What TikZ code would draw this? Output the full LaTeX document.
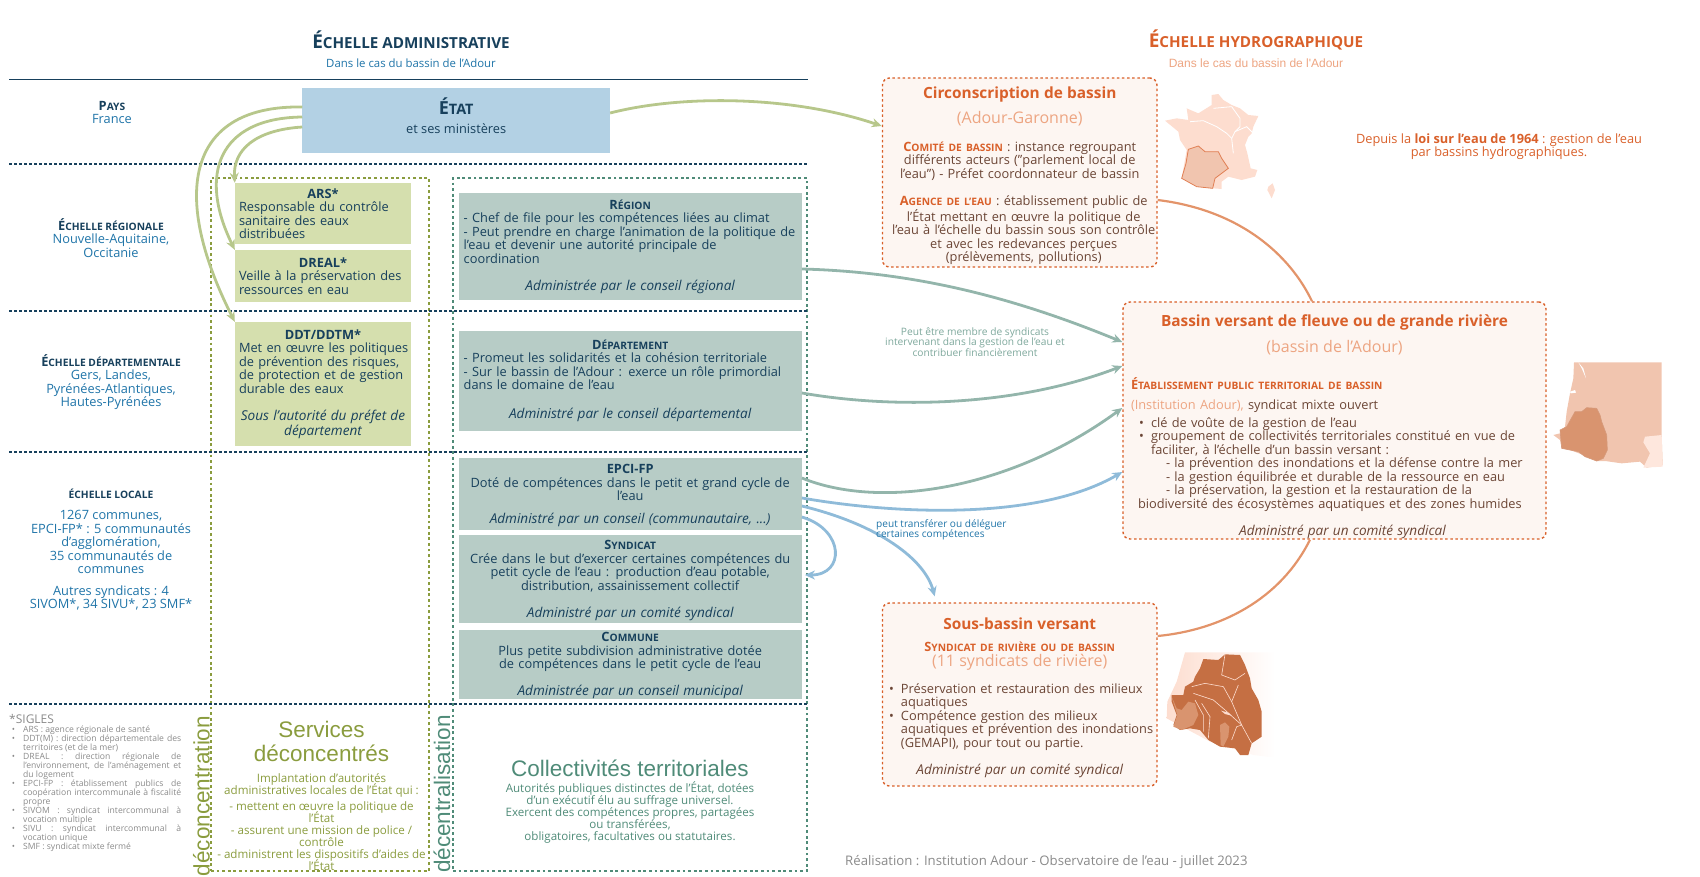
\documentclass[tikz,border=0pt]{standalone}
\usepackage{fontspec}
\setmainfont{Open Sans}
\newfontfamily\arialfont{Liberation Sans}
\usetikzlibrary{arrows.meta}
\definecolor{navy}{HTML}{17405C}
\definecolor{bleu}{HTML}{1F74A8}
\definecolor{etatfill}{HTML}{B3D1E4}
\definecolor{olive}{HTML}{8A9C3E}
\definecolor{olivefill}{HTML}{D5DFAE}
\definecolor{oliveline}{HTML}{B7C78B}
\definecolor{teal2}{HTML}{4F8B78}
\definecolor{tealfill}{HTML}{B7CCC6}
\definecolor{tealline}{HTML}{93B5AB}
\definecolor{bleuline}{HTML}{8FBBD9}
\definecolor{orange2}{HTML}{D9602A}
\definecolor{orangelight}{HTML}{EDA582}
\definecolor{orangeline}{HTML}{E3946A}
\definecolor{brun}{HTML}{6B4535}
\definecolor{rosefill}{HTML}{FDF6F2}
\definecolor{gris}{HTML}{8A8A8A}
\definecolor{mapa}{HTML}{FDDDCF}
\definecolor{mapb}{HTML}{F1C5AF}
\definecolor{mapc}{HTML}{D9946F}
\definecolor{mapd}{HTML}{C56F43}
\lineskiplimit=-30pt
\makeatletter
\newcommand{\sct}[1]{{\fontsize{\strip@pt\dimexpr0.8\dimexpr\f@size pt\relax\relax}{\f@baselineskip}\selectfont #1}}
\newcommand{\ita}[1]{{\fontsize{\strip@pt\dimexpr1.06\dimexpr\f@size pt\relax\relax}{\f@baselineskip}\selectfont\itshape #1}}
\makeatother
\newcommand{\ctr}[1]{\makebox[\linewidth][c]{#1}}
\newcommand{\ctrd}[1]{\ctr{\hspace*{8pt}#1}}
\newcommand{\jline}[1]{\makebox[158pt][s]{#1}}
\newcommand{\sgl}{\leavevmode\llap{\textbullet\hspace{8pt}}}
\newcommand{\bul}{\leavevmode\llap{\textbullet\hspace{7pt}}}
\newcommand{\titre}{\fontsize{15.4}{18}\selectfont\color{orange2}}
\newcommand{\txtsize}{\fontsize{12.8}{13.5}\selectfont}
\tikzset{
  txt/.style={font=\txtsize},
  echelle/.style={txt,align=center,text=bleu,inner sep=0pt},
  etatbox/.style={fill=etatfill,inner sep=0pt,text=navy,align=center},
  servbox/.style={txt,fill=olivefill,inner sep=0pt,text=navy,align=left,minimum width=176pt,text width=168pt},
  collbox/.style={txt,fill=tealfill,inner sep=0pt,text=navy,minimum width=343pt,text width=333pt},
  bvbox/.style={txt,fill=rosefill,draw=orange2,line width=1.4pt,dash pattern=on 2.5pt off 2.6pt,rounded corners=7pt,inner sep=0pt,text=brun},
  plain/.style={txt,inner sep=0pt,align=center},
  grand/.style={font=\arialfont\fontsize{22.5}{24}\selectfont,inner sep=0pt,align=center},
  limite/.style={navy,line width=1.6pt,dash pattern=on 2.5pt off 2.5pt},
  cadre/.style={line width=1.2pt,dash pattern=on 2.8pt off 2.8pt,inner sep=0pt},
  fleche/.style={line width=2.8pt,-{Stealth[length=10pt,width=9pt]}},
}
\begin{document}
\begin{tikzpicture}[x=1pt,y=-1pt]
\useasboundingbox (0,0) rectangle (1700,876);
% en-tetes
\node[inner sep=0pt,text=navy,font=\fontsize{19}{20}\selectfont\bfseries] (admin) at (411,40) {É\sct{CHELLE ADMINISTRATIVE}};
\node[inner sep=0pt,text=bleu,font=\fontsize{11.4}{13}\selectfont] (adminsub) at (411,63) {Dans le cas du bassin de l'Adour};
\node[inner sep=0pt,text=orange2,font=\fontsize{19}{20}\selectfont\bfseries] (hydro) at (1256,40) {É\sct{CHELLE HYDROGRAPHIQUE}};
\node[inner sep=0pt,text=orangelight,font=\arialfont\fontsize{12}{13}\selectfont] (hydrosub) at (1256,63.5) {Dans le cas du bassin de l'Adour};
\draw[navy,line width=0.8pt] (9,79.5) -- (808,79.5);
% cadres
\node[cadre,draw=olive,minimum width=218pt,minimum height=693pt] (cadreserv) at (320,524.5) {};
\node[cadre,draw=teal2,minimum width=354pt,minimum height=693pt] (cadrecoll) at (630,524.5) {};
\foreach \y in {164,311,452,704} \draw[limite] (9,\y) -- (808,\y);
% echelles
\node[echelle] (pays) at (112,112.5) {\textcolor{navy}{\textbf{P\sct{AYS}}}\\France};
\node[echelle] (region) at (111,238) {\textcolor{navy}{\textbf{É\sct{CHELLE RÉGIONALE}}}\\Nouvelle-Aquitaine,\\Occitanie};
\node[echelle] (dept) at (111,382) {\textcolor{navy}{\textbf{É\sct{CHELLE DÉPARTEMENTALE}}}\\Gers, Landes,\\Pyrénées-Atlantiques,\\Hautes-Pyrénées};
\node[echelle] (local) at (111,549.5) {\textcolor{navy}{\textbf{\sct{ÉCHELLE LOCALE}}}\\[8pt]1267 communes,\\EPCI-FP* : 5 communautés\\d'agglomération,\\35 communautés de\\communes\\[8pt]Autres syndicats : 4\\SIVOM*, 34 SIVU*, 23 SMF*};
% etat
\node[etatbox,minimum width=307.5pt,minimum height=65pt] (etat) at (456.2,120.5) {{\fontsize{18}{20}\selectfont\bfseries É\sct{TAT}}\\[7pt]{\txtsize et ses ministères\rule[-9pt]{0pt}{9pt}}};
% services
\node[servbox,minimum height=61pt] (ars) at (323,213.5) {\ctr{\textbf{ARS*}}\\Responsable du contrôle\\sanitaire des eaux\\distribuées};
\node[servbox,minimum height=52pt] (dreal) at (323,276) {\ctr{\textbf{DREAL*}}\\Veille à la préservation des\\ressources en eau};
\node[servbox,minimum height=124pt] (ddt) at (323,384) {\ctr{\textbf{DDT/DDTM*}}\\\mbox{Met en œuvre les politiques}\\de prévention des risques,\\de protection et de gestion\\durable des eaux\\[13.5pt]\ctr{\ita{Sous l'autorité du préfet de}}\\\ctr{\ita{département}}};
% collectivites
\node[collbox,align=left,minimum height=107pt] (reg) at (630.2,246.5) {\ctr{\textbf{R\sct{ÉGION}}}\\- Chef de file pour les compétences liées au climat\\- Peut prendre en charge l'animation de la politique de\\l'eau et devenir une autorité principale de\\coordination\\[13.5pt]\ctr{\ita{Administrée par le conseil régional}}};
\node[collbox,align=left,minimum height=100pt] (dep) at (630.2,381) {\ctr{\textbf{D\sct{ÉPARTEMENT}}}\\- Promeut les solidarités et la cohésion territoriale\\- Sur le bassin de l'Adour : exerce un rôle primordial\\dans le domaine de l'eau\\[15.5pt]\ctr{\ita{Administré par le conseil départemental}}};
\node[collbox,align=center,minimum height=72pt] (epci) at (630.2,494) {\rule{0pt}{12pt}\textbf{EPCI-FP}\\Doté de compétences dans le petit et grand cycle de\\l'eau\\[9pt]\ita{Administré par un conseil (communautaire, ...)}};
\node[collbox,align=center,minimum height=88pt] (synd) at (630.2,579) {\rule{0pt}{12pt}\textbf{S\sct{YNDICAT}}\\Crée dans le but d'exercer certaines compétences du\\petit cycle de l'eau : production d'eau potable,\\distribution, assainissement collectif\\[13.5pt]\ita{Administré par un comité syndical}};
\node[collbox,align=center,minimum height=69pt] (comm) at (630.2,664.5) {\rule{0pt}{12pt}\textbf{C\sct{OMMUNE}}\\Plus petite subdivision administrative dotée\\de compétences dans le petit cycle de l'eau\\[13.5pt]\ita{Administrée par un conseil municipal}};
% bassins
\node[bvbox,align=center,minimum width=274.5pt,minimum height=189pt,text width=270pt] (circ) at (1019.7,172.5) {\rule{0pt}{18pt}{\titre\textbf{Circonscription de bassin}}\\[9pt]{\fontsize{16}{18}\selectfont\textcolor{orangelight}{(Adour-Garonne)}}\\[14pt]\textcolor{orange2}{\textbf{C\sct{OMITÉ DE BASSIN}}} : instance regroupant\\différents acteurs ("parlement local de\\l'eau") - Préfet coordonnateur de bassin\\[13.5pt]\ctrd{\textcolor{orange2}{\textbf{A\sct{GENCE DE L'EAU}}} : établissement public de}\\\ctrd{l'État mettant en œuvre la politique de}\\\ctrd{l'eau à l'échelle du bassin sous son contrôle}\\\ctrd{et avec les redevances perçues}\\\ctrd{(prélèvements, pollutions)}};
\node[bvbox,align=left,minimum width=423pt,minimum height=237pt,text width=407pt] (bv) at (1334.5,420.5) {\ctr{\rule{0pt}{24pt}\titre\textbf{Bassin versant de fleuve ou de grande rivière}}\\[9pt]\ctr{\fontsize{16}{18}\selectfont\textcolor{orangelight}{(bassin de l'Adour)}}\\[21pt]\textcolor{orange2}{\textbf{É\sct{TABLISSEMENT PUBLIC TERRITORIAL DE BASSIN}}}\\[7pt]\textcolor{orangelight}{(Institution Adour),} syndicat mixte ouvert\\[4pt]\hspace*{20pt}\bul clé de voûte de la gestion de l'eau\\\hspace*{20pt}\bul groupement de collectivités territoriales constitué en vue de\\\hspace*{20pt}faciliter, à l'échelle d'un bassin versant :\\\hspace*{35pt}- la prévention des inondations et la défense contre la mer\\\hspace*{35pt}- la gestion équilibrée et durable de la ressource en eau\\\hspace*{35pt}- la préservation, la gestion et la restauration de la\\\hspace*{7pt}biodiversité des écosystèmes aquatiques et des zones humides\\[13.5pt]\ctr{\hspace*{16pt}\ita{Administré par un comité syndical}}};
\node[bvbox,align=left,minimum width=274.5pt,minimum height=183pt,text width=237.5pt] (sous) at (1019.7,694.5) {\ctr{\rule{0pt}{18pt}\titre\textbf{Sous-bassin versant}}\\[8pt]\ctr{\textcolor{orange2}{\textbf{S\sct{YNDICAT DE RIVIÈRE OU DE BASSIN}}}}\\[2pt]\ctr{\fontsize{16}{18}\selectfont\textcolor{orangelight}{(11 syndicats de rivière)}}\\[12pt]\bul\mbox{Préservation et restauration des milieux}\\aquatiques\\\bul Compétence gestion des milieux\\\mbox{aquatiques et prévention des inondations}\\(GEMAPI), pour tout ou partie.\\[13.5pt]\ctr{\ita{Administré par un comité syndical}}};
% fleches
\draw[fleche,oliveline] ([yshift=-6.5pt]etat.west) .. controls (255,130) and (233,150) .. (ars.north west);
\draw[fleche,oliveline] ([yshift=3.5pt]etat.west) .. controls (218,118) and (198,175) .. (dreal.north west);
\draw[fleche,oliveline] ([yshift=13.5pt]etat.west) .. controls (190,105) and (168,190) .. (ddt.north west);
\draw[fleche,oliveline] ([yshift=7.5pt]etat.east) .. controls (680,95) and (790,95) .. ([yshift=46.5pt]circ.west);
\draw[fleche,tealline] ([yshift=-22.5pt]reg.east) .. controls (920,272) and (1020,300) .. ([yshift=78.5pt]bv.west);
\draw[fleche,tealline] ([yshift=-12pt]dep.east) .. controls (900,410) and (1020,405) .. ([yshift=54.5pt]bv.west);
\draw[fleche,tealline] ([yshift=16pt]epci.east) .. controls (880,510) and (1010,490) .. ([yshift=12.5pt]bv.west);
\draw[fleche,bleuline] ([yshift=-4pt]epci.east) .. controls (900,515) and (1040,520) .. ([yshift=-51.5pt]bv.west);
\draw[fleche,bleuline] ([yshift=-12pt]epci.east) .. controls (880,525) and (925,560) .. ([xshift=-85pt,yshift=6pt]sous.north);
\draw[fleche,bleuline] ([yshift=-23pt]epci.east) .. controls (845,530) and (845,575) .. ([xshift=3pt,yshift=4pt]synd.east);
\draw[orangeline,line width=2.2pt] ([yshift=-27.5pt]circ.east) .. controls (1240,210) and (1290,255) .. ([xshift=-22.5pt]bv.north);
\draw[orangeline,line width=2.2pt] ([xshift=-24.5pt]bv.south) .. controls (1280,600) and (1220,630) .. ([yshift=58.5pt]sous.east);
% textes libres
\node[inner sep=0pt,align=center,text=tealline!70!teal2,font=\fontsize{10.2}{10.4}\selectfont] (noteteal) at (975,342) {Peut être membre de syndicats\\intervenant dans la gestion de l'eau et\\contribuer financièrement};
\node[inner sep=0pt,align=left,anchor=west,text=bleu,font=\fontsize{10.1}{10.4}\selectfont] (notebleu) at (876,530) {peut transférer ou déléguer\\certaines compétences};
\node[plain,text=orange2] (loi) at (1499,146.5) {Depuis la \textbf{loi sur l'eau de 1964} : gestion de l'eau\\par bassins hydrographiques.};
\node[inner sep=0pt,anchor=west,text=gris,font=\fontsize{13.2}{14}\selectfont] (realis) at (845,862) {Réalisation : Institution Adour - Observatoire de l'eau - juillet 2023};
% bas
\node[grand,rotate=90,text=olive,anchor=center] (deconc) at (201.5,796) {déconcentration};
\node[grand,rotate=90,text=teal2,anchor=center] (decent) at (442,794) {décentralisation};
\node[grand,text=olive] (services) at (321.5,741) {Services\\déconcentrés};
\node[inner sep=0pt,align=center,text=olive,font=\fontsize{11.6}{12}\selectfont] (servtxt) at (321.5,822) {Implantation d'autorités\\administratives locales de l'État qui :\\[4pt]- mettent en œuvre la politique de\\l'État\\- assurent une mission de police /\\contrôle\\- administrent les dispositifs d'aides de\\l'État};
\node[grand,text=teal2] (coll) at (630,768) {Collectivités territoriales};
\node[inner sep=0pt,align=center,text=teal2,font=\fontsize{11.6}{12}\selectfont] (colltxt) at (630,812) {Autorités publiques distinctes de l'État, dotées\\d'un exécutif élu au suffrage universel.\\Exercent des compétences propres, partagées\\ou transférées,\\obligatoires, facultatives ou statutaires.};
\node[inner sep=0pt,anchor=west,text=gris,font=\fontsize{12}{13}\selectfont] (sigtitre) at (9,719) {*SIGLES};
\node[inner sep=0pt,anchor=north west,text=gris,align=left,font=\fontsize{8.6}{9}\selectfont] (sigles) at (23,726) {\sgl ARS : agence régionale de santé\\\sgl\jline{DDT(M) : direction départementale des}\\territoires (et de la mer)\\\sgl\jline{DREAL : direction régionale de}\\\jline{l'environnement, de l'aménagement et}\\du logement\\\sgl\jline{EPCI-FP : établissement publics de}\\\jline{coopération intercommunale à fiscalité}\\propre\\\sgl\jline{SIVOM : syndicat intercommunal à}\\vocation multiple\\\sgl\jline{SIVU : syndicat intercommunal à}\\vocation unique\\\sgl SMF : syndicat mixte fermé};
% cartes
\begin{scope}[shift={(1160,90)},scale=1/3]
\fill[mapa] (155,15) -- (175,12) -- (190,30) -- (215,45) -- (240,55) -- (265,75) -- (295,78) -- (280,110) -- (275,130) -- (265,140) -- (255,165) -- (262,190) -- (272,235) -- (292,240) -- (285,260) -- (245,270) -- (205,260) -- (185,275) -- (185,297) -- (160,295) -- (100,285) -- (65,265) -- (80,180) -- (60,150) -- (55,125) -- (15,92) -- (50,85) -- (85,90) -- (80,55) -- (115,70) -- (155,45) -- cycle;
\fill[mapa] (325,290) -- (338,280) -- (345,300) -- (335,325) -- (322,300) -- cycle;
\draw[white,line width=0.8pt] (90,95) -- (130,92) -- (170,110) -- (200,130) -- (215,145) -- (220,190);
\draw[white,line width=0.8pt] (160,55) -- (215,50) -- (240,85) -- (240,110) -- (225,125) -- (215,145);
\draw[white,line width=0.8pt] (225,125) -- (260,110) -- (280,130);
\filldraw[fill=mapb,draw=orange2!80,line width=0.8pt] (85,178) -- (115,168) -- (135,185) -- (175,185) -- (185,205) -- (205,235) -- (165,265) -- (158,295) -- (110,290) -- (65,265) -- (78,220) -- cycle;
\end{scope}
\begin{scope}[shift={(1550,355)},scale=1/3]
\fill[mapb] (72,22) -- (335,22) -- (335,240) -- (338,330) -- (290,338) -- (270,320) -- (215,325) -- (165,318) -- (140,318) -- (100,300) -- (60,285) -- (35,280) -- (30,255) -- (10,240) -- (30,235) -- (45,215) -- (50,170) -- (60,115) -- (70,70) -- cycle;
\fill[mapa!70] (285,245) -- (335,240) -- (338,335) -- (280,338) -- (300,295) -- (280,262) -- cycle;
\fill[white] (85,22) -- (100,40) -- (108,70) -- (95,40) -- cycle;
\fill[white] (60,110) -- (75,105) -- (78,113) -- (62,115) -- cycle;
\filldraw[fill=mapc,draw=mapd!70,line width=0.6pt] (75,170) -- (95,170) -- (110,158) -- (140,160) -- (150,180) -- (155,200) -- (170,240) -- (172,285) -- (160,310) -- (140,318) -- (105,305) -- (85,290) -- (35,280) -- (30,225) -- (50,215) -- cycle;
\end{scope}
\begin{scope}[shift={(1160,645)},scale=1/3]
\shade[left color=mapa,right color=white] (75,22) -- (345,22) -- (345,338) -- (280,330) -- (150,290) -- (20,220) -- (22,170) -- (50,110) -- cycle;
\fill[mapd] (130,42) -- (175,45) -- (195,28) -- (240,30) -- (255,60) -- (270,100) -- (275,130) -- (295,165) -- (305,200) -- (305,275) -- (275,295) -- (265,330) -- (240,330) -- (225,310) -- (180,305) -- (145,285) -- (120,255) -- (90,250) -- (60,255) -- (40,240) -- (50,210) -- (35,170) -- (35,150) -- (70,150) -- (75,125) -- (100,110) -- (105,95) -- (120,70) -- cycle;
\fill[mapc] (35,155) -- (50,190) -- (65,195) -- (85,170) -- (105,175) -- (115,210) -- (100,240) -- (65,255) -- (40,245) -- (52,210) -- cycle;
\fill[mapc] (180,240) -- (195,232) -- (208,245) -- (205,275) -- (190,305) -- (182,300) -- cycle;
\draw[mapa,line width=0.6pt] (195,28) -- (185,90) -- (225,105) -- (255,85);
\draw[mapa,line width=0.6pt] (95,125) -- (135,115) -- (190,125) -- (215,170) -- (245,240);
\draw[mapa,line width=0.6pt] (235,120) -- (215,170);
\draw[mapa,line width=0.6pt] (100,145) -- (160,165) -- (195,195) -- (245,240) -- (275,295);
\draw[mapa,line width=0.6pt] (125,175) -- (150,215) -- (145,280);
\draw[mapa,line width=0.6pt] (105,165) -- (130,210) -- (130,260);
\draw[mapa,line width=0.6pt] (215,285) -- (230,245) -- (245,240);
\fill[mapa] (183,197) -- (205,203) -- (215,212) -- (195,207) -- cycle;
\end{scope}
\end{tikzpicture}
\end{document}
